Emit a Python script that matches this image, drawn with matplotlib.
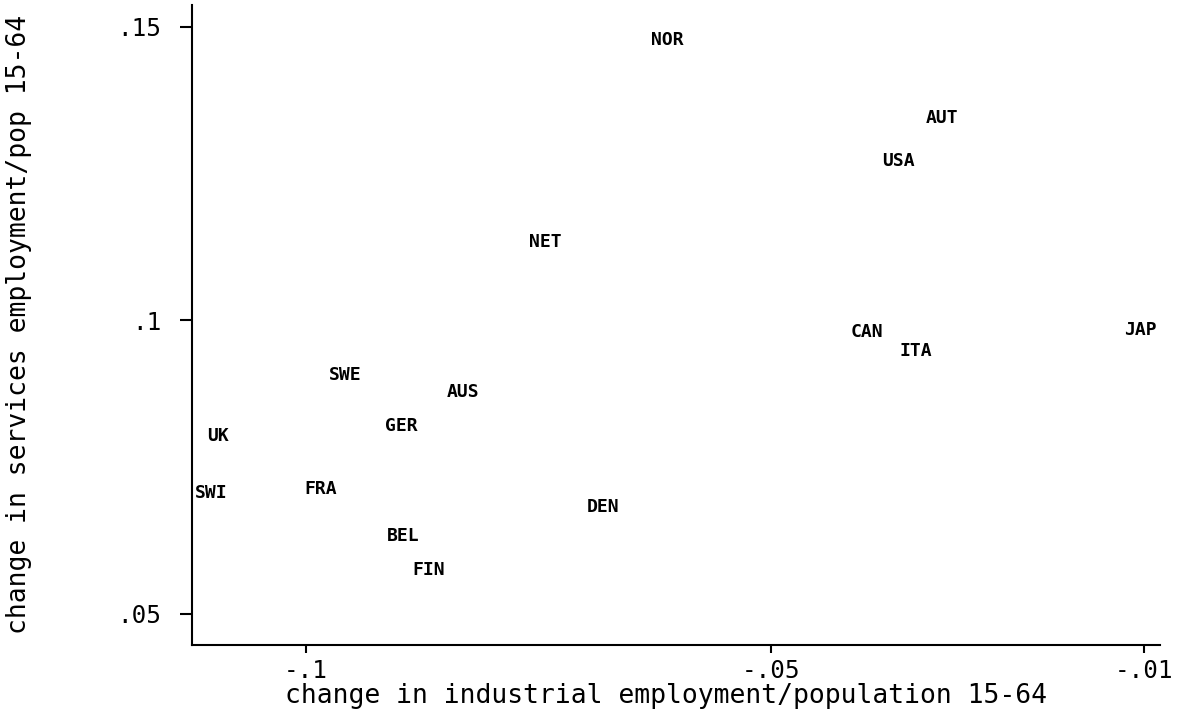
import matplotlib.pyplot as plt

# country labels and their values (industrial change, services change)
countries = ["NOR", "AUT", "USA", "NET", "CAN", "ITA", "JAP", "SWE", "AUS",
             "UK", "GER", "SWI", "FRA", "DEN", "BEL", "FIN"]
ind_change = [-0.0611, -0.0317, -0.0363, -0.0743, -0.0397, -0.0345, -0.0103,
              -0.0957, -0.0831, -0.1094, -0.0897, -0.1101, -0.0984, -0.0681,
              -0.0895, -0.0868]
serv_change = [0.1478, 0.1345, 0.1272, 0.1134, 0.0980, 0.0947, 0.0983,
               0.0906, 0.0878, 0.0803, 0.0820, 0.0706, 0.0713, 0.0682,
               0.0633, 0.0575]

xticks = [-0.1, -0.05, -0.01]
xticklabels = ["-.1", "-.05", "-.01"]
yticks = [0.05, 0.1, 0.15]
yticklabels = [".05", ".1", ".15"]


def main():
    plt.rcParams['font.family'] = ['DejaVu Sans Mono']
    fig = plt.figure(figsize=(11.78, 7.11), dpi=100)
    ax = fig.add_axes([0.163, 0.093, 0.822, 0.9])

    for name, x, y in zip(countries, ind_change, serv_change):
        ax.text(x, y, name, ha="center", va="center", fontsize=13,
                fontweight="bold", color="black")

    ax.set_xlim(-0.1122, -0.0082)
    ax.set_ylim(0.0447, 0.1537)

    for s in ["top", "right"]:
        ax.spines[s].set_visible(False)
    ax.spines["left"].set_linewidth(1.5)
    ax.spines["bottom"].set_linewidth(1.5)

    ax.set_xticks(xticks)
    ax.set_xticklabels(xticklabels)
    ax.set_yticks(yticks)
    ax.set_yticklabels(yticklabels)
    ax.tick_params(axis="both", direction="out", width=1.5, labelsize=17.5)
    ax.tick_params(axis="y", length=9, pad=13)
    ax.tick_params(axis="x", length=6, pad=4)

    ax.set_xlabel("change in industrial employment/population 15-64",
                  fontsize=19)
    ax.xaxis.set_label_coords(0.49, -0.06)
    ax.set_ylabel("change in services employment/pop 15-64",
                  fontsize=19)
    ax.yaxis.set_label_coords(-0.165, 0.5)

    fig.savefig("out.png", dpi=100)


if __name__ == "__main__":
    main()
